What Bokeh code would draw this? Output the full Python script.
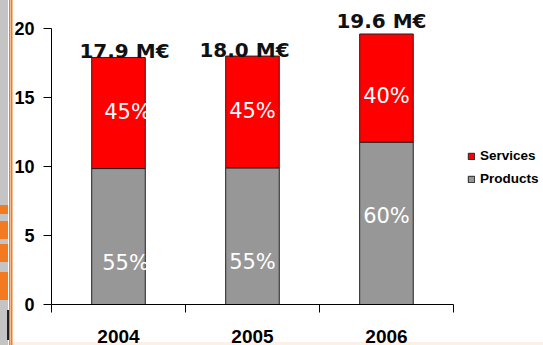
from bokeh.plotting import figure
from bokeh.models import (ColumnDataSource, FixedTicker, LinearAxis, Range1d,
                          CustomJSTickFormatter, Legend, LegendItem, Label)
from bokeh.core.properties import value
from bokeh.embed import file_html
from bokeh.resources import INLINE

# Revenue split per year (M€)
years = ["2004", "2005", "2006"]
totals = [17.9, 18.0, 19.6]
products = [9.85, 9.9, 11.76]
services = [8.05, 8.1, 7.84]
products_pct = [55, 55, 60]
services_pct = [45, 45, 40]
y_ticks = [0, 5, 10, 15, 20]

# text nudges in pixels (style only)
total_dx = [6, -8, -5]
total_dy = [6, 6, 13]
serv_dx = [9, 0, 0]
serv_dy = [-1, -1, 8]
prod_dx = [7, 0, 0]
prod_dy = [26, 26, -7]

n = len(years)
xs = [i + 0.5 for i in range(n)]
src = ColumnDataSource(dict(
    x=xs,
    products=products,
    top=[p + s for p, s in zip(products, services)],
    prod_mid=[p / 2 for p in products],
    serv_mid=[p + s / 2 for p, s in zip(products, services)],
    prod_txt=[f"{v}%" for v in products_pct],
    serv_txt=[f"{v}%" for v in services_pct],
    serv_dx=serv_dx, serv_dy=serv_dy, prod_dx=prod_dx, prod_dy=prod_dy,
))

# the plotting area reaches past the last category and above 20 so that the
# legend and the value labels have room; the axes are bounded to the data
p = figure(width=543, height=345, output_backend="svg", toolbar_location=None,
           x_range=Range1d(0, 3.672), y_range=Range1d(0, 21.52),
           min_border_left=51, min_border_right=0, min_border_top=7,
           min_border_bottom=41, x_axis_type=None, y_axis_type=None)
p.frame_width = 492
p.frame_height = 297
p.outline_line_color = None
p.grid.visible = False
p.background_fill_alpha = 0
p.border_fill_alpha = 0

# left edge decoration and bottom strip painted behind the canvas
orange = "#f47a22"
layers = [
    (orange, "8px 9px", "0px 205px"),
    (orange, "8px 18px", "0px 221px"),
    (orange, "8px 18px", "0px 244px"),
    (orange, "8px 28px", "0px 272px"),
    ("#222222", "2px 30px", "7px 310px"),
    ("#c4c4c4", "8px 345px", "0px 0px"),
    (orange, "1.5px 345px", "9px 0px"),
    (orange, "1.5px 345px", "11px 0px"),
    ("#fdf0e6", "543px 3px", "0px 342px"),
]
p.styles = {
    "background-color": "white",
    "background-image": ", ".join(f"linear-gradient({c}, {c})" for c, _, _ in layers),
    "background-size": ", ".join(s for _, s, _ in layers),
    "background-position": ", ".join(pos for _, _, pos in layers),
    "background-repeat": "no-repeat",
}

r_prod = p.vbar(x="x", width=0.4, bottom=0, top="products", source=src,
                fill_color="#979797", line_color="#222222", line_width=1)
r_serv = p.vbar(x="x", width=0.4, bottom="products", top="top", source=src,
                fill_color="#ff0000", line_color="#222222", line_width=1)

pct_style = dict(text_color="white", text_font=value("DejaVu Sans"),
                 text_font_size="21px", text_align="center", text_baseline="middle")
p.text(x="x", y="serv_mid", text="serv_txt", x_offset="serv_dx", y_offset="serv_dy",
       source=src, **pct_style)
p.text(x="x", y="prod_mid", text="prod_txt", x_offset="prod_dx", y_offset="prod_dy",
       source=src, **pct_style)

for x, t, dx, dy in zip(xs, totals, total_dx, total_dy):
    p.add_layout(Label(x=x, y=t, text=f"{t:.1f} M€", x_offset=dx, y_offset=dy,
                       text_align="center", text_baseline="alphabetic",
                       text_font="DejaVu Sans", text_font_style="bold",
                       text_font_size="20px", text_color="#111111"))

# y axis
yax = LinearAxis(ticker=FixedTicker(ticks=y_ticks, minor_ticks=[]),
                 bounds=(y_ticks[0], y_ticks[-1]))
yax.major_tick_out = 8
yax.major_tick_in = 0
yax.minor_tick_out = 0
yax.major_label_standoff = 9
yax.major_label_text_font = "Liberation Sans"
yax.major_label_text_font_style = "bold"
yax.major_label_text_font_size = "18px"
yax.major_label_text_color = "black"
yax.axis_line_color = "black"
p.add_layout(yax, "left")

# x axis: labels at bar centres, tick marks at category boundaries
xax = LinearAxis(ticker=FixedTicker(ticks=xs, minor_ticks=list(range(n + 1))),
                 bounds=(0, n))
xax.formatter = CustomJSTickFormatter(args=dict(years=years),
                                      code="return years[Math.floor(tick)];")
xax.major_tick_out = 0
xax.major_tick_in = 0
xax.minor_tick_out = 8
xax.minor_tick_in = 0
xax.minor_tick_line_color = "black"
xax.major_label_standoff = 17
xax.major_label_text_font = "Liberation Sans"
xax.major_label_text_font_style = "bold"
xax.major_label_text_font_size = "19px"
xax.major_label_text_color = "black"
xax.axis_line_color = "black"
p.add_layout(xax, "below")

legend = Legend(items=[LegendItem(label="Services", renderers=[r_serv]),
                       LegendItem(label="Products", renderers=[r_prod])],
                location=(416, 118), orientation="vertical",
                glyph_width=8, glyph_height=8, label_standoff=5,
                label_height=13, spacing=8, padding=0, margin=0,
                border_line_alpha=0, background_fill_alpha=0,
                label_text_font="Liberation Sans", label_text_font_style="bold",
                label_text_font_size="13.5px", label_text_color="black")
p.add_layout(legend, "center")

open("out.html", "w").write(file_html(p, INLINE))
